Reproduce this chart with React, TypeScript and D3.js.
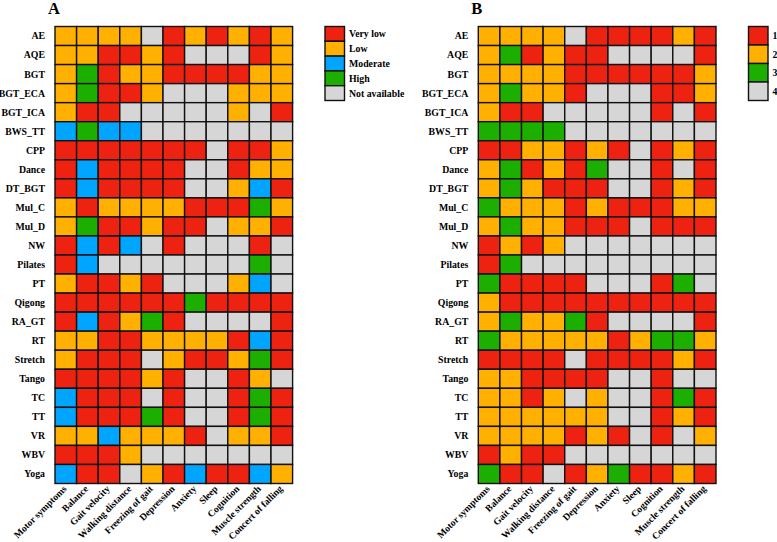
import * as d3 from "d3";

const rows = ["AE", "AQE", "BGT", "BGT_ECA", "BGT_ICA", "BWS_TT", "CPP", "Dance", "DT_BGT", "Mul_C", "Mul_D", "NW", "Pilates", "PT", "Qigong", "RA_GT", "RT", "Stretch", "Tango", "TC", "TT", "VR", "WBV", "Yoga"];
const outcomes = ["Motor symptoms", "Balance", "Gait velocity", "Walking distance", "Freezing of gait", "Depression", "Anxiety", "Sleep", "Cognition", "Muscle strength", "Concert of falling"];

// panel A: R very low, O low, B moderate, G high, N not available
const certaintyA = [
  "OOOONRORORO",
  "OORRORNNNRO",
  "OGROORRRROO",
  "OGRRONNNOOO",
  "ORRNNNNNONR",
  "BGBBNNNNNNN",
  "RRRRRRRNRRO",
  "RBRRRRNNROO",
  "RBRRRRNNOBR",
  "OROOOORRRGO",
  "OGRRORRNOOR",
  "RBRBNRNNNRN",
  "RBNNNNNNNGN",
  "ORRORNNNOBN",
  "RRRRRRGRRRR",
  "RBROGRNNNNR",
  "OORROOOORBR",
  "ORRRNORROGR",
  "RRRRORNNRON",
  "BRRRNRNNRGR",
  "BRRRGRNNRGR",
  "OOBOOORNOOR",
  "RRRONNNNNNN",
  "BRRNORBRRBO",
];

// panel B: ranks 1-4
const rankB = [
  "22224111121",
  "23121144441",
  "22221111112",
  "23221444112",
  "21144444141",
  "33334444444",
  "11221214121",
  "23121344141",
  "23211144121",
  "32221211122",
  "23221114111",
  "12124444444",
  "13444444444",
  "31111444134",
  "21111111111",
  "23223144441",
  "32222212332",
  "11114111121",
  "22111144144",
  "22124244131",
  "22222244121",
  "22221214142",
  "12114444444",
  "31141231121",
];

const legendA = [
  { key: "R", label: "Very low", color: "#EE2211" },
  { key: "O", label: "Low", color: "#FFB000" },
  { key: "B", label: "Moderate", color: "#00A5FF" },
  { key: "G", label: "High", color: "#1DAF00" },
  { key: "N", label: "Not available", color: "#D6D6D6" },
];
const legendB = [
  { key: "1", label: "1", color: "#EE2211" },
  { key: "2", label: "2", color: "#FFB000" },
  { key: "3", label: "3", color: "#1DAF00" },
  { key: "4", label: "4", color: "#D6D6D6" },
];

const font = "'Liberation Serif', 'Times New Roman', serif";

type Item = { key: string; label: string; color: string };

function Panel({ title, data, legend, x0, x1, legendX, legendH }: {
  title: string; data: string[]; legend: Item[]; x0: number; x1: number; legendX: number; legendH: number;
}) {
  const x = d3.scaleBand<string>().domain(outcomes).range([x0, x1]);
  const y = d3.scaleBand<string>().domain(rows).range([26.5, 483.5]);
  const color = d3.scaleOrdinal<string, string>().domain(legend.map((d) => d.key)).range(legend.map((d) => d.color));
  const ly = d3.scaleBand<string>().domain(legend.map((d) => d.key)).range([26.5, 26.5 + legendH * legend.length]);

  return (
    <g>
      <text x={x0 - 7} y={13.5} fontSize={16.5} fontWeight="bold" fontFamily={font}>{title}</text>
      {rows.map((r, i) => (
        <g key={r}>
          <text x={x0 - 10} y={y(r)! + y.bandwidth() / 2} dy="0.35em" textAnchor="end" fontSize={9.8} fontWeight="bold" fontFamily={font}>{r}</text>
          {outcomes.map((c, j) => (
            <rect key={c} x={x(c)} y={y(r)} width={x.bandwidth()} height={y.bandwidth()} fill={color(data[i][j])} stroke="#111" strokeWidth={1.4} />
          ))}
        </g>
      ))}
      {outcomes.map((c) => {
        const cx = x(c)! + x.bandwidth() / 2;
        return (
          <text key={c} transform={`translate(${cx - 1},${487}) rotate(-45)`} dy="0.35em" textAnchor="end" fontSize={9.6} fontWeight="bold" fontFamily={font}>{c}</text>
        );
      })}
      {legend.map((d) => (
        <g key={d.key}>
          <rect x={legendX} y={ly(d.key)} width={19.5} height={ly.bandwidth()} fill={d.color} stroke="#111" strokeWidth={1.4} />
          <text x={legendX + 24} y={ly(d.key)! + ly.bandwidth() / 2} dy="0.35em" fontSize={9.8} fontWeight="bold" fontFamily={font}>{d.label}</text>
        </g>
      ))}
    </g>
  );
}

export default function App() {
  return (
    <svg width={777} height={542} style={{ position: "absolute", left: 0, top: 0, background: "#fff" }}>
      <Panel title="A" data={certaintyA} legend={legendA} x0={55} x1={292.6} legendX={325} legendH={14.8} />
      <Panel title="B" data={rankB} legend={legendB} x0={478.3} x1={716} legendX={748.5} legendH={18.5} />
    </svg>
  );
}
